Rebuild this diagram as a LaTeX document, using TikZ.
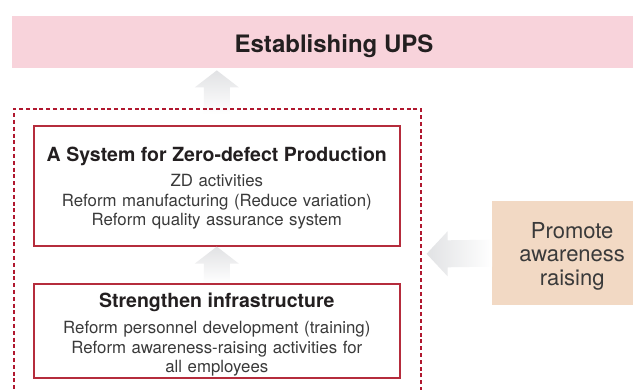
\documentclass[tikz,border=0pt]{standalone}
\usepackage{fontspec}
\setmainfont{TeX Gyre Heros}
\usepackage{xcolor}
\usetikzlibrary{                          % TikZ libraries
                calc,                     % .
                positioning}

\definecolor{bandpink}{HTML}{F8D3DB}
\definecolor{peach}{HTML}{F2D9C4}
\definecolor{boxred}{HTML}{B52C3C}
\definecolor{dashred}{HTML}{B0182F}
\definecolor{arrowgrey}{HTML}{E1E2E4}
\definecolor{inkdark}{HTML}{231F20}
\definecolor{inkgrey}{HTML}{3A3A3A}

\newcommand\headfont{\bfseries\fontsize{19.5}{22}\selectfont}
\newcommand\bodyfont{\fontsize{16.8}{19.5}\selectfont}

\begin{document}
\begin{tikzpicture}[x=1pt,y=-1pt
                    ]
                % define styles
\tikzset{band/.style={fill=bandpink,
                      anchor=north west,
                      minimum width=640pt,
                      minimum height=52pt,
                      inner sep=0,
                      },
         redbox/.style={draw=boxred,
                        line width=1.6pt,
                        anchor=north west,
                        minimum width=366pt,
                        text width=360pt,
                        align=center,
                        inner sep=0,
                        text=inkgrey,
                        font=\bodyfont,
                        },
         peachbox/.style={fill=peach,
                          anchor=north west,
                          minimum width=160pt,
                          minimum height=104pt,
                          text width=150pt,
                          align=center,
                          inner sep=0,
                          text=inkgrey,
                          font=\fontsize{22}{23.5}\selectfont,
                          },
         dashframe/.style={draw=dashred,
                           line width=1.6pt,
                           dash pattern=on 4pt off 2.8pt,
                           anchor=north west,
                           minimum width=407pt,
                           minimum height=290pt,
                           inner sep=0,
                           },
         fatup/.style={to path={-- ++(22,17) -- ++(-9,0)
                                -- ($(\tikztotarget)+(13,0)$)
                                -- ($(\tikztotarget)+(-13,0)$)
                                -- ($(\tikztostart)+(-13,17)$) -- ++(-9,0) -- cycle},
                       top color=arrowgrey,
                       bottom color=white,
                       },
         fatleft/.style={to path={-- ++(21,-22.5) -- ++(0,9)
                                  -- ($(\tikztotarget)+(0,-13.5)$)
                                  -- ($(\tikztotarget)+(0,13.5)$)
                                  -- ($(\tikztostart)+(21,13.5)$) -- ++(0,9) -- cycle},
                         left color=arrowgrey,
                         right color=white,
                         }
}

% canvas
\path[use as bounding box, fill=white] (0,0) rectangle (633,390);
\clip (0,0) rectangle (633,390);

% nodes
\node[band] (band) at (12,16) {};
\node[anchor=base, text=inkdark, font=\bfseries\fontsize{24}{28}\selectfont] (ups) at (334,53) {Establishing UPS};

\node[redbox, minimum height=120pt] (zdbox) at (33,125)
    {{\headfont\color{inkdark}\rule{0pt}{19.5pt}A System for Zero-defect Production}\\[5.5pt]
     ZD activities\\
     Reform manufacturing (Reduce variation)\\
     Reform quality assurance system};

\node[redbox, minimum height=94pt] (infra) at (33,283)
    {{\headfont\color{inkdark}\rule{0pt}{22.5pt}Strengthen infrastructure}\\[6.5pt]
     Reform personnel development (training)\\
     Reform awareness-raising activities for\\
     all employees};

\node[peachbox] (promote) at (492,201)
    {\rule{0pt}{21.6pt}Promote\\awareness\\raising};

% block arrows
\coordinate (uptip) at ($(band.south -| zdbox.north)+(0,2)$);
\coordinate (upend) at ($(zdbox.north)+(0,-11)$);
\shade[fatup] (uptip) to (upend);
\shade[fatup] (zdbox.south) to (infra.north);

% dashed frame
\node[dashframe] (frame) at (13,108) {};

\coordinate (lefttip) at ($(frame.east)+(5,0)$);
\shade[fatleft] (lefttip) to (promote.west);

\end{tikzpicture}
\end{document}
